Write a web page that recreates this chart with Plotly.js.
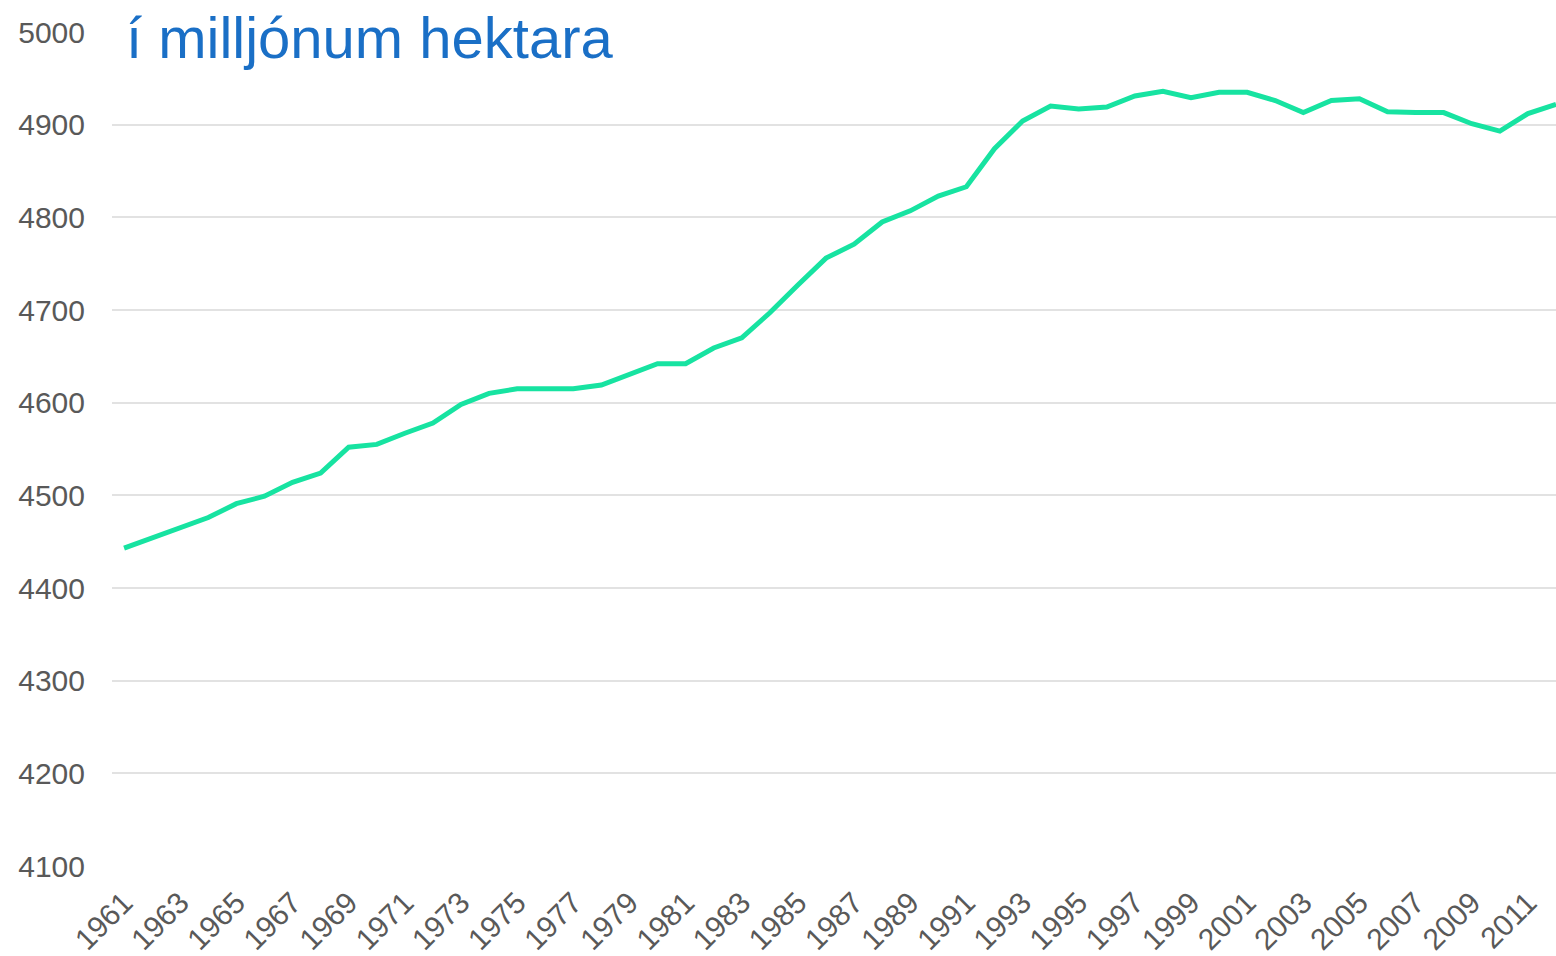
<!DOCTYPE html>
<html>
<head>
<meta charset="utf-8">
<script src="https://cdn.plot.ly/plotly-3.0.1.min.js"></script>
<style>html,body{margin:0;padding:0;background:#fff;}#chart{width:1556px;height:956px;}</style>
</head>
<body>
<div id="chart"></div>
<script>
const years = [1961,1962,1963,1964,1965,1966,1967,1968,1969,1970,
  1971,1972,1973,1974,1975,1976,1977,1978,1979,1980,
  1981,1982,1983,1984,1985,1986,1987,1988,1989,1990,
  1991,1992,1993,1994,1995,1996,1997,1998,1999,2000,
  2001,2002,2003,2004,2005,2006,2007,2008,2009,2010,
  2011,2012];
const landArea = [4443,4454,4466,4476,4491,4499,4514,4524,4552,4555,
  4567,4578,4598,4610,4615,4615,4615,4619,4630,4642,
  4642,4659,4670,4697,4727,4756,4771,4795,4807,4823,
  4833,4874,4904,4920,4917,4919,4931,4936,4929,4935,
  4935,4926,4913,4926,4928,4914,4913,4913,4901,4893,
  4912,4922];
const titleText = "í milljónum hektara";
const yTicks = [4100,4200,4300,4400,4500,4600,4700,4800,4900,5000];

const trace = {
  x: years, y: landArea, type: 'scatter', mode: 'lines',
  line: {color: '#17e3a1', width: 5}, hoverinfo: 'x+y'
};
const layout = {
  width: 1556, height: 956,
  margin: {l: 112, r: 0, t: 32, b: 90},
  paper_bgcolor: '#ffffff', plot_bgcolor: '#ffffff',
  showlegend: false,
  font: {family: 'Liberation Sans, Arial, sans-serif', color: '#595959'},
  xaxis: {
    range: [1960.57, 2012], tick0: 1961, dtick: 2, tickmode: 'linear',
    tickangle: -45, showgrid: false, zeroline: false, showline: false,
    ticks: '', ticklabelstandoff: 12,
    tickfont: {size: 30, color: '#595959'}
  },
  yaxis: {
    range: [4100, 5000], tickvals: yTicks, showgrid: true,
    gridcolor: '#e2e2e2', gridwidth: 2, zeroline: false, showline: false,
    ticks: '', ticklabelstandoff: 26,
    tickfont: {size: 30, color: '#595959'}
  },
  annotations: [{
    text: titleText, xref: 'paper', yref: 'paper', x: 0.008, y: 1,
    xanchor: 'left', yanchor: 'middle', yshift: -5, showarrow: false,
    font: {size: 58, color: '#1a6fc6', family: 'Liberation Sans, Arial, sans-serif'}
  }]
};
Plotly.newPlot('chart', [trace], layout, {displayModeBar: false, staticPlot: true});
</script>
</body>
</html>
